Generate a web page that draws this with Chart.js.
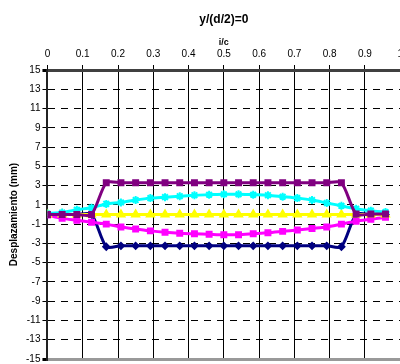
<!DOCTYPE html>
<html>
<head>
<meta charset="utf-8">
<script src="https://cdn.jsdelivr.net/npm/chart.js@4"></script>
<style>
  body { margin: 0; overflow: hidden; background: #fff; }
  #wrap { width: 408px; height: 367px; }
</style>
</head>
<body>
<div id="wrap"><canvas id="desplChart"></canvas></div>
<script>
// i/c positions (24 stations)
const xs = [0, 0.0417, 0.0833, 0.125, 0.1667, 0.2083, 0.25, 0.2917, 0.3333, 0.375, 0.4167, 0.4583,
            0.5, 0.5417, 0.5833, 0.625, 0.6667, 0.7083, 0.75, 0.7917, 0.8333, 0.875, 0.9167, 0.9583];

const serieNavy = [0, 0, 0, 0, -3.35, -3.25, -3.25, -3.25, -3.25, -3.25, -3.25, -3.25,
                   -3.25, -3.25, -3.25, -3.25, -3.25, -3.25, -3.25, -3.25, -3.35, 0, 0, 0];
const serieMagenta = [-0.05, -0.4, -0.6, -0.8, -1.0, -1.3, -1.5, -1.7, -1.85, -1.95, -2.0, -2.05,
                      -2.1, -2.1, -2.0, -1.9, -1.75, -1.6, -1.45, -1.3, -1.0, -0.7, -0.5, -0.3];
const serieYellow = [0, 0, 0, 0, 0, 0, 0, 0, 0, 0, 0, 0,
                     0, 0, 0, 0, 0, 0, 0, 0, 0, 0, 0, 0];
const serieCyan = [0.1, 0.2, 0.5, 0.7, 1.1, 1.25, 1.5, 1.7, 1.8, 1.9, 2.0, 2.05,
                   2.1, 2.1, 2.05, 2.0, 1.85, 1.7, 1.5, 1.2, 0.9, 0.6, 0.4, 0.25];
const seriePurple = [0, 0, 0, 0, 3.3, 3.3, 3.3, 3.3, 3.3, 3.3, 3.3, 3.3,
                     3.3, 3.3, 3.3, 3.3, 3.3, 3.3, 3.3, 3.3, 3.3, 0.05, 0.05, 0.05];

const xTicks = [0, 0.1, 0.2, 0.3, 0.4, 0.5, 0.6, 0.7, 0.8, 0.9, 1];
const yTicks = [-15, -13, -11, -9, -7, -5, -3, -1, 1, 3, 5, 7, 9, 11, 13, 15];

function pts(vals) {
    return vals.map((v, i) => ({ x: xs[i], y: v }));
}

function serie(vals, color, style, radius, order) {
    return {
        data: pts(vals),
        borderColor: color,
        backgroundColor: color,
        borderWidth: 3,
        pointStyle: style,
        pointRadius: radius,
        pointBorderWidth: 2,
        pointBorderColor: color,
        pointBackgroundColor: color,
        tension: 0.25,
        order: order
    };
}

Chart.defaults.font.family = "'Liberation Sans', Arial, sans-serif";
Chart.defaults.color = "#000";

new Chart(
    document.getElementById("desplChart"),
    {
        type: "line",
        data: {
            datasets: [
                serie(serieNavy, "#000080", "rectRot", 3, 5),
                serie(serieMagenta, "#ff00ff", "rect", 3.5, 4),
                serie(serieYellow, "#ffff00", "triangle", 4, 3),
                serie(serieCyan, "#00ffff", "star", 4, 2),
                serie(seriePurple, "#800080", "rect", 3.5, 1)
            ]
        },
        options: {
            responsive: true,
            maintainAspectRatio: false,
            animation: false,
            layout: { padding: { top: 12, left: 8, right: 0, bottom: 1 } },
            plugins: {
                legend: { display: false },
                tooltip: { enabled: false },
                title: {
                    display: true,
                    text: "y/(d/2)=0",
                    fullSize: false,
                    font: { size: 12, weight: "bold" },
                    padding: { top: 0, bottom: 11 }
                }
            },
            scales: {
                x: {
                    type: "linear",
                    position: "top",
                    min: 0,
                    max: 1,
                    afterBuildTicks: (axis) => {
                        axis.ticks = xTicks.map(v => ({ value: v }));
                    },
                    afterFit: (axis) => {
                        axis.height = 32.6;
                    },
                    title: {
                        display: true,
                        text: "i/c",
                        font: { size: 9, weight: "bold" },
                        padding: { top: 0, bottom: 0 }
                    },
                    ticks: {
                        font: { size: 10 },
                        padding: 5,
                        maxRotation: 0,
                        autoSkip: false,
                        callback: (v) => String(Math.round(v * 10) / 10)
                    },
                    grid: {
                        color: "#000",
                        lineWidth: 1,
                        tickLength: 5
                    },
                    border: { display: true, color: "#404040", width: 3 }
                },
                y: {
                    min: -15,
                    max: 15,
                    afterBuildTicks: (axis) => {
                        axis.ticks = yTicks.map(v => ({ value: v }));
                    },
                    title: {
                        display: true,
                        text: "Desplazamiento (mm)",
                        font: { size: 10, weight: "bold" },
                        padding: { top: 0, bottom: 4 }
                    },
                    ticks: {
                        font: { size: 10 },
                        padding: 2
                    },
                    grid: {
                        color: (ctx) => {
                            if (ctx.tick && ctx.tick.value === -15) return "#999";
                            if (ctx.tick && ctx.tick.value === 15) return "#404040";
                            return "#000";
                        },
                        lineWidth: (ctx) => (ctx.tick && Math.abs(ctx.tick.value) === 15) ? 3 : 1,
                        tickColor: "#000",
                        tickLength: 5
                    },
                    border: {
                        display: true,
                        color: "#222",
                        width: 2,
                        dash: (ctx) => (ctx.tick && Math.abs(ctx.tick.value) !== 15) ? [7, 6] : []
                    }
                }
            }
        }
    }
);
</script>
</body>
</html>
